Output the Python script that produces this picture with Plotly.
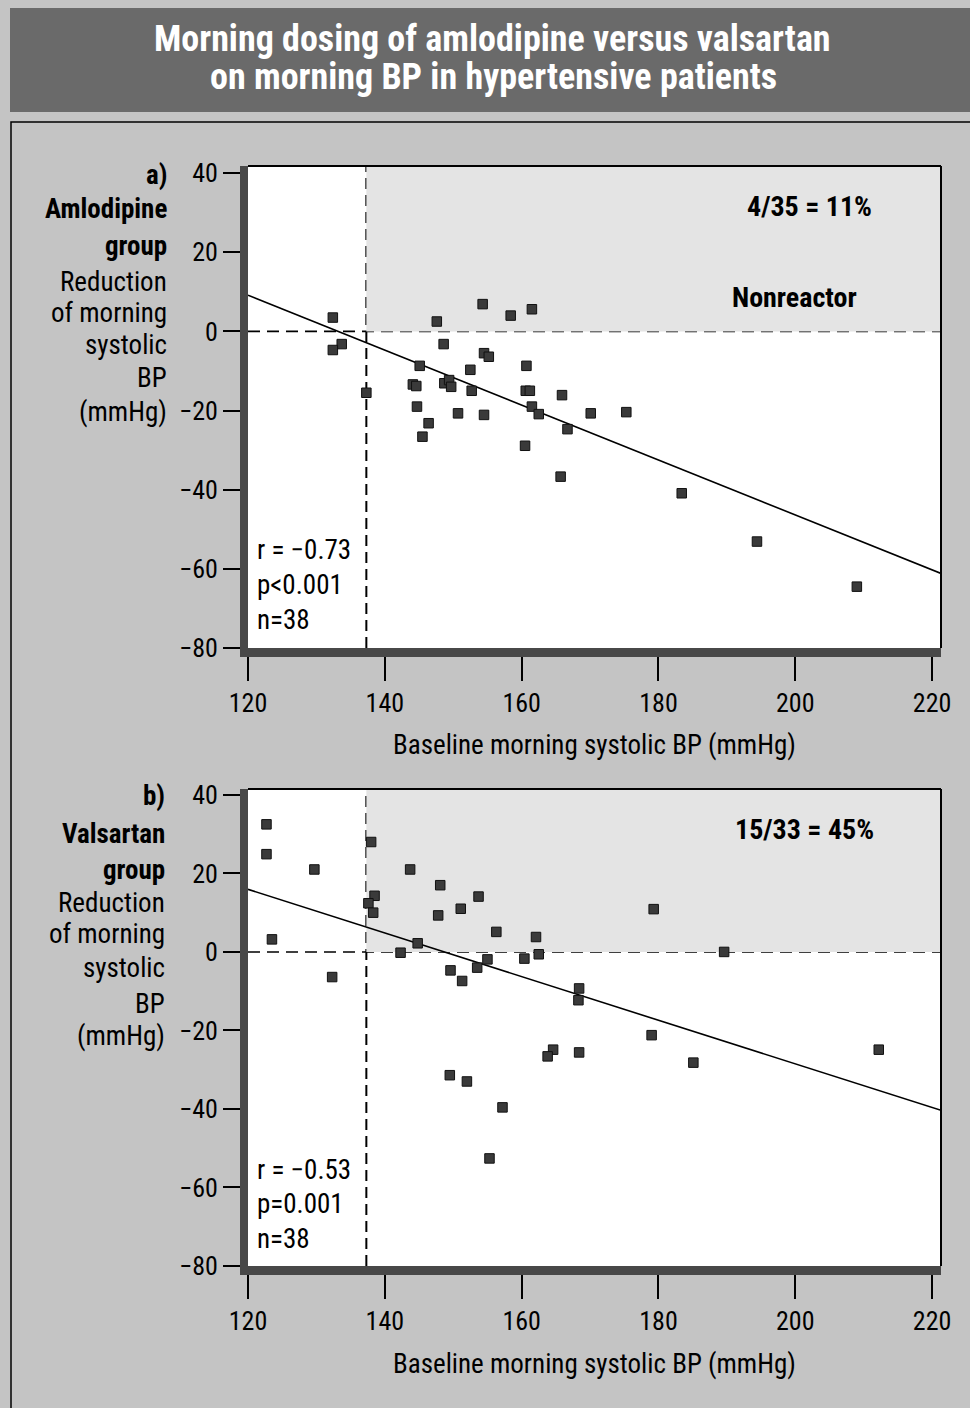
import numpy as np
import plotly.graph_objects as go

W, H = 970, 1408


def px(x):
    return x / W


def py(y):
    return 1 - y / H


# ---------------- data ----------------
amlo_baseline = [132.4, 133.7, 132.4, 137.3, 147.6, 154.3, 158.4, 161.5, 148.6, 154.5,
                 155.2, 145.1, 152.5, 160.7, 144.1, 144.6, 148.7, 149.4, 149.7, 152.7,
                 160.6, 161.2, 165.9, 144.7, 161.5, 162.5, 150.7, 154.5, 146.4, 145.5,
                 166.7, 160.5, 170.1, 175.3, 165.7, 183.4, 194.4, 209.0]
amlo_reduction = [3.5, -3.2, -4.7, -15.5, 2.5, 6.9, 4.0, 5.6, -3.2, -5.5,
                  -6.4, -8.7, -9.7, -8.7, -13.4, -13.8, -13.1, -12.3, -14.0, -15.0,
                  -15.0, -15.0, -16.1, -19.0, -19.0, -20.9, -20.7, -21.1, -23.2, -26.6,
                  -24.7, -28.9, -20.7, -20.4, -36.7, -40.9, -53.1, -64.5]

vals_baseline = [122.7, 122.7, 129.7, 123.5, 132.3, 138.0, 138.5, 137.6, 138.3, 143.7,
                 148.1, 153.7, 151.1, 147.8, 156.3, 162.1, 144.8, 142.3, 160.4, 162.5,
                 155.0, 153.5, 149.6, 151.3, 168.4, 168.3, 164.6, 163.8, 168.4, 149.5,
                 152.0, 157.2, 155.3, 179.3, 189.6, 179.0, 185.1, 212.2]
vals_reduction = [32.5, 24.9, 21.0, 3.2, -6.4, 28.0, 14.3, 12.4, 10.0, 21.0,
                  17.0, 14.1, 11.0, 9.3, 5.1, 3.8, 2.2, -0.2, -1.7, -0.6,
                  -1.9, -4.0, -4.7, -7.4, -9.3, -12.3, -24.9, -26.6, -25.6, -31.4,
                  -33.0, -39.6, -52.6, 10.9, 0.0, -21.2, -28.2, -24.9]

threshold_sbp = 137.3
x_ticks = [120, 140, 160, 180, 200, 220]
y_ticks = [-80, -60, -40, -20, 0, 20, 40]
y_ticktext = ["\u221280", "\u221260", "\u221240", "\u221220", "0", "20", "40"]
x_range = [120, 221.3]

title_lines = ["Morning dosing of amlodipine versus valsartan",
               "on morning BP in hypertensive patients"]
x_title = "Baseline morning systolic BP (mmHg)"
panel_a_label = ["<b>a)</b>", "<b>Amlodipine</b>", "<b>group</b>", "Reduction",
                 "of morning", "systolic", "BP", "(mmHg)"]
panel_b_label = ["<b>b)</b>", "<b>Valsartan</b>", "<b>group</b>", "Reduction",
                 "of morning", "systolic", "BP", "(mmHg)"]
panel_a_ratio = "4/35 = 11%"
panel_b_ratio = "15/33 = 45%"
panel_a_stats = ["r = \u22120.73", "p<0.001", "n=38"]
panel_b_stats = ["r = \u22120.53", "p=0.001", "n=38"]

FONT = "Liberation Sans Narrow, Roboto Condensed, DejaVu Sans Condensed, Arial Narrow, sans-serif"

fig = go.Figure()

panels = [
    dict(xa="x", ya="y", xd=[248, 941], yd=[166, 648], yr=[-80, 41.8],
         bx=amlo_baseline, by=amlo_reduction),
    dict(xa="x2", ya="y2", xd=[248, 941], yd=[789, 1266], yr=[-80, 41.5],
         bx=vals_baseline, by=vals_reduction),
]

for p in panels:
    slope, intercept = np.polyfit(p["bx"], p["by"], 1)
    lx = np.array(x_range)
    fig.add_trace(go.Scatter(x=lx, y=intercept + slope * lx, mode="lines",
                             line=dict(color="black", width=1.6),
                             xaxis=p["xa"], yaxis=p["ya"], hoverinfo="skip"))
    fig.add_trace(go.Scatter(x=p["bx"], y=p["by"], mode="markers",
                             marker=dict(symbol="square", size=9.5, color="#3a3a3a",
                                         line=dict(color="#111111", width=1)),
                             xaxis=p["xa"], yaxis=p["ya"]))

axis_common = dict(showgrid=False, zeroline=False, showline=True, automargin=False,
                   linecolor="#484848", ticks="outside", tickcolor="black",
                   tickwidth=1.5, tickfont=dict(family=FONT, size=26, color="black"))

layout = dict(
    width=W, height=H, margin=dict(l=0, r=0, t=0, b=0, pad=0, autoexpand=False),
    autosize=False,
    paper_bgcolor="#c4c4c4", plot_bgcolor="white", showlegend=False,
    font=dict(family=FONT, color="black"),
)
for i, p in enumerate(panels):
    sfx = "" if i == 0 else "2"
    layout["xaxis" + sfx] = dict(axis_common, domain=[px(p["xd"][0]), px(p["xd"][1])],
                                 range=x_range, tickvals=x_ticks, ticklen=24,
                                 linewidth=9, anchor="y" + sfx)
    layout["yaxis" + sfx] = dict(axis_common, domain=[py(p["yd"][1]), py(p["yd"][0])],
                                 range=p["yr"], tickvals=y_ticks, ticktext=y_ticktext,
                                 ticklen=17, linewidth=8, anchor="x" + sfx)
fig.update_layout(**layout)

shapes = []
# title banner and frame
shapes.append(dict(type="rect", xref="paper", yref="paper", x0=px(10), x1=px(975),
                   y0=py(112), y1=py(8), fillcolor="#6a6a6a", line=dict(width=0), layer="below"))
shapes.append(dict(type="rect", xref="paper", yref="paper", x0=px(11), x1=px(980),
                   y0=py(1420), y1=py(122), line=dict(color="black", width=1.5),
                   fillcolor="rgba(0,0,0,0)", layer="below"))
for i, p in enumerate(panels):
    sfx = "" if i == 0 else "2"
    xa, ya = "x" + sfx, "y" + sfx
    shapes.append(dict(type="rect", xref=xa, yref=ya, x0=threshold_sbp, x1=x_range[1],
                       y0=0, y1=p["yr"][1], fillcolor="#e4e4e4", line=dict(width=0),
                       layer="below"))
    shapes.append(dict(type="line", xref=xa, yref=ya + " domain", x0=threshold_sbp,
                       x1=threshold_sbp, y0=0, y1=1,
                       line=dict(color="black", width=2, dash="11px,6px"), layer="below"))
    shapes.append(dict(type="line", xref=xa + " domain", yref=ya, x0=0, x1=1, y0=0, y1=0,
                       line=dict(color="black", width=1.6, dash="12px,7px"), layer="below"))
    shapes.append(dict(type="line", xref=xa + " domain", yref=ya + " domain", x0=0, x1=1,
                       y0=1, y1=1, line=dict(color="black", width=2)))
    shapes.append(dict(type="line", xref=xa + " domain", yref=ya + " domain", x0=1, x1=1,
                       y0=0, y1=1, line=dict(color="black", width=2)))
fig.update_layout(shapes=shapes)

ann = []


def text(x, y, s, size=27, anchor="center", color="black"):
    ann.append(dict(x=px(x), y=py(y), xref="paper", yref="paper", text=s, showarrow=False,
                    xanchor=anchor, yanchor="middle",
                    font=dict(family=FONT, size=size, color=color)))


text(492, 39, "<b>" + title_lines[0] + "</b>", size=36, color="white")
text(494, 77, "<b>" + title_lines[1] + "</b>", size=36, color="white")

label_y_a = [175, 209, 246, 282, 313, 345, 378, 412]
label_y_b = [796, 834, 870, 903, 934, 968, 1004, 1036]
for s, y in zip(panel_a_label, label_y_a):
    text(169, y, s, anchor="right")
for s, y in zip(panel_b_label, label_y_b):
    text(167, y, s, anchor="right")

text(874, 207, "<b>" + panel_a_ratio + "</b>", size=28, anchor="right")
text(859, 297, "<b>Nonreactor</b>", size=28, anchor="right")
text(876, 829, "<b>" + panel_b_ratio + "</b>", size=28, anchor="right")

for s, y in zip(panel_a_stats, [550, 585, 620]):
    text(255, y, s, size=27, anchor="left")
for s, y in zip(panel_b_stats, [1170, 1204, 1239]):
    text(255, y, s, size=27, anchor="left")

text(594, 745, x_title, size=27)
text(594, 1364, x_title, size=27)

fig.update_layout(annotations=ann)
fig.write_html("out.html", config={"displayModeBar": False},
               post_script="document.body.style.margin='0';document.body.style.overflow='hidden';")
